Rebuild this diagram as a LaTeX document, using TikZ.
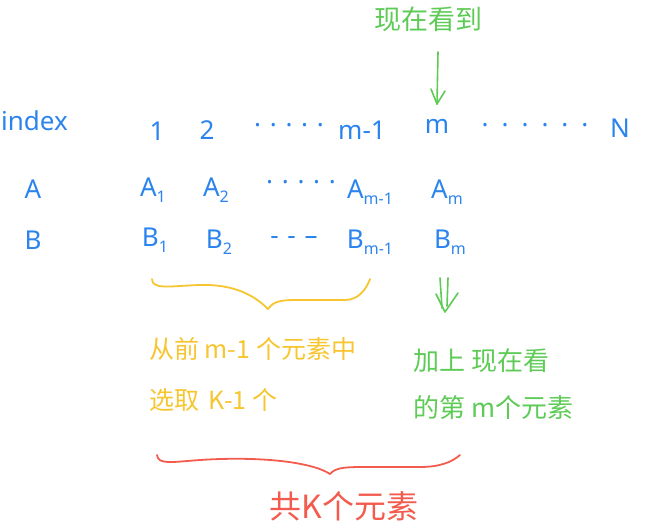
\documentclass[tikz,border=0pt]{standalone}
\usepackage{fontspec}
\usetikzlibrary{calc}
\setmainfont{Noto Sans}
\newfontfamily\cjk{Noto Sans CJK SC}
\definecolor{blueink}{HTML}{2B84EE}
\definecolor{greenink}{HTML}{5DCB55}
\definecolor{yellowink}{HTML}{F7C530}
\definecolor{redink}{HTML}{F25B4D}
\newcommand{\sbs}[1]{\raisebox{-0.4ex}{\fontsize{16}{17}\selectfont #1}}
\begin{document}
\begin{tikzpicture}[x=1pt,y=-1pt,
  bluetext/.style={text=blueink,font=\fontsize{26}{30}\selectfont,inner sep=0pt},
  greentext/.style={text=greenink,font=\cjk\fontsize{26}{30}\selectfont,inner sep=0pt},
  yellowtext/.style={text=yellowink,font=\cjk\fontsize{25}{30}\selectfont,inner sep=0pt},
  redtext/.style={text=redink,font=\cjk\fontsize{32}{36}\selectfont,inner sep=0pt},
  greenline/.style={draw=greenink,line width=1.6pt,line cap=round,line join=round},
  yellowline/.style={draw=yellowink,line width=1.8pt,line cap=round,line join=round},
  redline/.style={draw=redink,line width=1.8pt,line cap=round,line join=round}]
\useasboundingbox (0,0) rectangle (646,530);
% top label and arrow
\node[greentext,font=\cjk\fontsize{27}{30}\selectfont] (top) at (428,19) {现在看到};
\coordinate (a1s) at (438,52);
\coordinate (a1e) at (437,104);
\draw[greenline] (a1s) -- (a1e);
\draw[greenline] ($(a1e)+(-6,-15)$) -- (a1e) -- ($(a1e)+(8,-13)$);
% index row
\node[bluetext,anchor=west] (idx) at (1,121) {index};
\node[bluetext] (n1) at (157,131) {1};
\node[bluetext] (n2) at (207,130) {2};
\node[bluetext] (d1) at (289,125) {.\,\,.\,\,.\,\,.\,\,.};
\node[bluetext] (nm1) at (362,130) {m-1};
\node[bluetext] (nm) at (437,126) {m};
\node[bluetext] (d2) at (535,125) {.\,\,\,.\,\,\,.\,\,\,.\,\,\,.\,\,\,.};
\node[bluetext] (nN) at (620,128) {N};
% A row
\node[bluetext] (A) at (33,189) {A};
\node[bluetext] (A1) at (153,190) {A\sbs{1}};
\node[bluetext] (A2) at (216,190) {A\sbs{2}};
\node[bluetext] (Ad) at (301,182) {.\,\,.\,\,.\,\,.\,\,.};
\node[bluetext] (Am1) at (370,192) {A\sbs{m-1}};
\node[bluetext] (Am) at (447,192) {A\sbs{m}};
% B row
\node[bluetext] (B) at (33,240) {B};
\node[bluetext] (B1) at (155,240) {B\sbs{1}};
\node[bluetext] (B2) at (219,242) {B\sbs{2}};
\node[bluetext] (Bd) at (294,241) {-\,\,-\,\,--};
\node[bluetext] (Bm1) at (370,242) {B\sbs{m-1}};
\node[bluetext] (Bm) at (450,242) {B\sbs{m}};
% yellow brace
\draw[yellowline] (152,279) .. controls (152,290) and (170,286) .. (200,285)
  .. controls (235,284) and (255,296) .. (268,309)
  .. controls (274,300) and (284,300) .. (300,300) -- (345,300)
  .. controls (358,300) and (366,290) .. (370,279);
% green double arrow
\coordinate (da) at (445,312);
\draw[greenline] (440,278) -- (442,308);
\draw[greenline] (448,278) -- (447,306);
\draw[greenline] (436,294) -- (da) -- (458,293);
% yellow text
\node[yellowtext,anchor=west] (y1) at (149,349) {从前 m-1 个元素中};
\node[yellowtext,anchor=west] (y2) at (149,400) {选取 \,K-1 个};
% green text
\node[greentext,anchor=west] (g1) at (413,361) {加上 现在看};
\node[greentext,anchor=west] (g2) at (413,408) {的第 m个元素};
% red brace
\draw[redline] (157,455) .. controls (158,465) and (172,462) .. (200,460)
  .. controls (260,456) and (312,462) .. (330,474)
  .. controls (336,467) and (346,467) .. (370,467) -- (420,467)
  .. controls (440,467) and (452,462) .. (460,455);
\node[redtext] (r) at (344,506) {共K个元素};
\end{tikzpicture}
\end{document}
